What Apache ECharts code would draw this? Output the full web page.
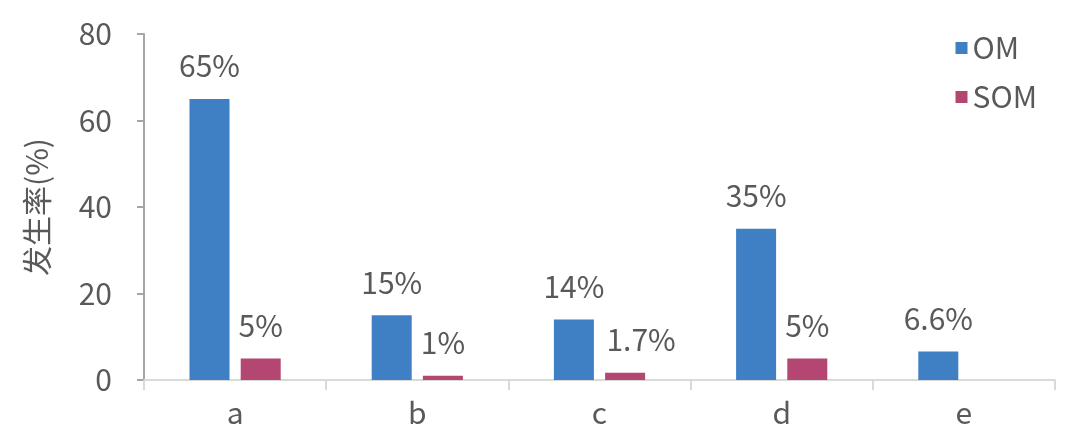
<!DOCTYPE html>
<html>
<head>
<meta charset="utf-8">
<script src="https://cdn.jsdelivr.net/npm/echarts@6/dist/echarts.min.js"></script>
<style>
  html, body { margin: 0; padding: 0; background: #fff; }
  #chart { width: 1080px; height: 440px; }
</style>
</head>
<body>
<div id="chart"></div>
<script>
  var categories = ['a', 'b', 'c', 'd', 'e'];
  var omValues = [65, 15, 14, 35, 6.6];
  var somValues = [5, 1, 1.7, 5, null];
  var yTicks = [0, 20, 40, 60, 80];

  var font = '"Noto Sans CJK SC", "Noto Sans", sans-serif';
  var textColor = '#595959';
  var fs = 30;

  var chart = echarts.init(document.getElementById('chart'));

  function pctLabel(p) {
    return p.value + '%';
  }

  // the 1.7% label sits a bit to the right in the original
  var somData = somValues.map(function (v, i) {
    if (v === 1.7) {
      return { value: v, label: { offset: [16, 0] } };
    }
    return v;
  });

  var option = {
    backgroundColor: '#FFFFFF',
    animation: false,
    textStyle: { fontFamily: font },
    grid: { left: 144, right: 25, top: 34, bottom: 60 },
    legend: {
      orient: 'vertical',
      right: 38,
      top: 26,
      itemWidth: 12,
      itemHeight: 12,
      itemGap: 15,
      icon: 'rect',
      textStyle: { fontSize: fs, color: textColor, fontFamily: font, lineHeight: 34 },
      data: ['OM', 'SOM']
    },
    xAxis: {
      type: 'category',
      data: categories,
      axisLine: { lineStyle: { color: '#D9D9D9', width: 2 } },
      axisTick: { show: true, length: 10, lineStyle: { color: '#D9D9D9', width: 2 } },
      axisLabel: { fontSize: fs, color: textColor, margin: 18, fontFamily: font }
    },
    yAxis: {
      type: 'value',
      min: 0,
      max: 80,
      interval: 20,
      name: '发生率(%)',
      nameLocation: 'middle',
      nameGap: 92,
      nameTextStyle: { fontSize: fs, color: textColor, fontFamily: font },
      axisLine: { show: true, lineStyle: { color: '#A6A6A6', width: 2 } },
      axisTick: { show: true, length: 7, lineStyle: { color: '#A6A6A6', width: 2 } },
      splitLine: { show: false },
      axisLabel: {
        fontSize: fs, color: textColor, margin: 32, fontFamily: font,
        formatter: function (v) { return yTicks.indexOf(v) >= 0 ? String(v) : ''; }
      }
    },
    series: [
      {
        name: 'OM',
        type: 'bar',
        data: omValues,
        barWidth: 40,
        barGap: '28%',
        itemStyle: { color: '#3F7FC4' },
        label: { show: true, position: 'top', distance: 18, fontSize: fs, color: textColor, fontFamily: font, formatter: pctLabel }
      },
      {
        name: 'SOM',
        type: 'bar',
        data: somData,
        barWidth: 40,
        itemStyle: { color: '#B44672' },
        label: { show: true, position: 'top', distance: 18, fontSize: fs, color: textColor, fontFamily: font, formatter: pctLabel }
      }
    ]
  };

  chart.setOption(option);
</script>
</body>
</html>
